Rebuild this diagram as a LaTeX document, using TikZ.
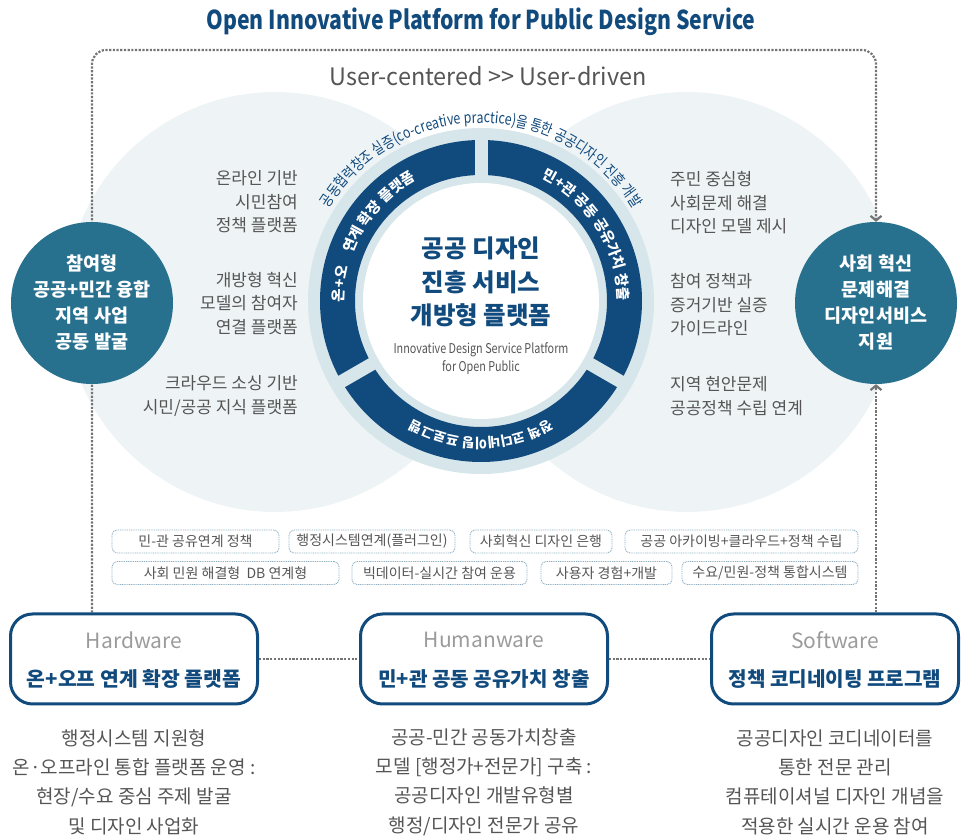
\documentclass[tikz,border=0pt]{standalone}
\usepackage{graphicx}
\usepackage{fontspec}
\setmainfont{Noto Sans CJK KR}
\newfontfamily\condfont[FakeStretch=0.8]{Noto Sans CJK KR}
\newfontfamily\arcfont[FakeStretch=0.8]{Noto Sans CJK KR}
\usetikzlibrary{decorations.text,arrows.meta}
\pgfdeclarelayer{bg}
\pgfsetlayers{bg,main}
\definecolor{navy}{HTML}{114A7D}
\definecolor{tealc}{HTML}{27708E}
\definecolor{ringlight}{HTML}{D7E6EA}
\definecolor{pale}{HTML}{EEF4F6}
\definecolor{txtgrey}{HTML}{555555}
\definecolor{hwgrey}{HTML}{9B9B9B}
\definecolor{dotgrey}{HTML}{747474}
\definecolor{tagborder}{HTML}{8FB0C4}
\newcommand{\fsz}[2]{\fontsize{#1}{#2}\selectfont}
\begin{document}
\begin{tikzpicture}[x=1pt,y=1pt,
  sidetxt/.style={text=txtgrey, font=\fsz{17}{23.5}, inner sep=0},
  sideL/.style={sidetxt, align=right, anchor=east},
  sideR/.style={sidetxt, align=left, anchor=west},
  tealcirc/.style={circle, fill=tealc, minimum size=162pt, inner sep=0, text=white, align=center, font=\bfseries\fsz{18.5}{26}},
  tagbox/.style={draw=tagborder, line width=0.9pt, dash pattern=on 1pt off 0.8pt, rounded corners=5pt, minimum height=23pt, inner sep=0, text=txtgrey, font=\fsz{14}{14}},
  bigbox/.style={draw=navy, line width=3pt, rounded corners=22pt, minimum width=247pt, minimum height=90pt, inner sep=0, fill=white},
  warelabel/.style={text=hwgrey, font=\fsz{21}{21}, inner sep=0},
  boxtitle/.style={text=navy, font=\bfseries\fsz{20}{20}, inner sep=0},
  desc/.style={text=txtgrey, align=center, font=\fsz{19}{29.3}, inner sep=0},
  frameline/.style={draw=dotgrey, line width=2.2pt, dash pattern=on 2.2pt off 1.5pt},
  barbend/.style={-{Straight Barb[length=4.5pt,width=11pt]}},
  ringtext/.style={decorate, decoration={text along path, text align=center, text color=white, text={|\bfseries\fsz{14.5}{14.5}|#1}}},
]
\useasboundingbox (0,0) rectangle (962,839);

% title
\node[text=navy, font=\bfseries\fsz{26}{26}, inner sep=0] (title) at (481,817)
  {\resizebox{549pt}{\height}{Open Innovative Platform for Public Design Service}};
\node[text=txtgrey, font=\fsz{24}{24}, inner sep=0] (usr) at (488,763)
  {\resizebox{317pt}{\height}{User-centered >{}> User-driven}};

% ring
\coordinate (rc) at (481,538);
\fill[ringlight] (rc) circle[radius=173];
\fill[navy, even odd rule] (rc) circle[radius=161] (rc) circle[radius=126];
\foreach \a in {90,210,330}
  \draw[ringlight, line width=13pt] (rc) -- ++(\a:170);
\fill[white] (rc) circle[radius=118];

% ring texts
\path[ringtext={온+오}] (rc) ++(188:137) arc[start angle=188, end angle=158, radius=137];
\path[ringtext={연계 확장 플랫폼}] (rc) ++(168:137) arc[start angle=168, end angle=110, radius=137];
\path[ringtext={민+관 공동 공유가치 창출}] (rc) ++(78:137) arc[start angle=78, end angle=-14, radius=137];
\path[decorate, decoration={text along path, text align=center, text color=white, text={|\bfseries\fsz{13.5}{13.5}|정책 코디네이팅 프로그램}}]
  (rc) ++(330:137) arc[start angle=330, end angle=210, radius=137];
\path[decorate, decoration={text along path, text align=center, text color=navy, text={|\arcfont\fsz{15.5}{15.5}|공동협력창조 실증(co-creative practice)을 통한 공공디자인 진흥 개발}}]
  (rc) ++(178:178) arc[start angle=178, end angle=2, radius=178];

% centre texts
\node[text=navy, align=center, font=\bfseries\fsz{24.5}{33.5}, inner sep=0] (ctitle) at (481,557)
  {공공 디자인\\진흥 서비스\\개방형 플랫폼};
\node[text=txtgrey, align=center, font=\condfont\fsz{13.5}{18}, inner sep=0] (csub) at (481,480)
  {Innovative Design Service Platform\\for Open Public};

% side texts
\node[sideL] (l1) at (298,637) {온라인 기반\\시민참여\\정책 플랫폼};
\node[sideL] (l2) at (298,535.5) {개방형 혁신\\모델의 참여자\\연결 플랫폼};
\node[sideL] (l3) at (298,443) {크라우드 소싱 기반\\시민/공공 지식 플랫폼};
\node[sideR] (r1) at (670,636) {주민 중심형\\사회문제 해결\\디자인 모델 제시};
\node[sideR] (r2) at (670,534) {참여 정책과\\증거기반 실증\\가이드라인};
\node[sideR] (r3) at (670,443) {지역 현안문제\\공공정책 수립 연계};

% teal circles
\node[tealcirc] (tealL) at (92,536) {참여형\\공공+민간 융합\\지역 사업\\공동 발굴};
\node[tealcirc] (tealR) at (876,536) {사회 혁신\\문제해결\\디자인서비스\\지원};

% tags
\node[tagbox, minimum width=167pt] (t1) at (195.5,297.5) {민-관 공유연계 정책};
\node[tagbox, minimum width=166pt] (t2) at (372,297.5) {행정시스템연계(플러그인)};
\node[tagbox, minimum width=142pt] (t3) at (541,297.5) {사회혁신 디자인 은행};
\node[tagbox, minimum width=233pt] (t4) at (741.5,297.5) {공공 아카이빙+클라우드+정책 수립};
\node[tagbox, minimum width=227pt] (t5) at (225.5,266) {사회 민원 해결형\ \ DB 연계형};
\node[tagbox, minimum width=175pt] (t6) at (439.5,266) {빅데이터-실시간 참여 운용};
\node[tagbox, minimum width=131pt] (t7) at (606.5,266) {사용자 경험+개발};
\node[tagbox, minimum width=176pt] (t8) at (770,266) {수요/민원-정책 통합시스템};

% bottom boxes
\node[bigbox] (hw) at (134,180) {};
\node[bigbox] (hu) at (484,180) {};
\node[bigbox] (sw) at (835,180) {};
\node[warelabel] (hwT) at (134,199) {Hardware};
\node[warelabel] (huT) at (484,199) {Humanware};
\node[warelabel] (swT) at (835,199) {Software};
\node[boxtitle] (hwK) at (134,160) {\resizebox{214pt}{\height}{온+오프 연계 확장 플랫폼}};
\node[boxtitle] (huK) at (484,160) {\resizebox{211pt}{\height}{민+관 공동 공유가치 창출}};
\node[boxtitle] (swK) at (835,160) {\resizebox{213pt}{\height}{정책 코디네이팅 프로그램}};

% descriptions
\node[desc] (hwD) at (134,57) {행정시스템 지원형\\온·오프라인 통합 플랫폼 운영 :\\현장/수요 중심 주제 발굴\\및 디자인 사업화};
\node[desc] (huD) at (484,57) {공공-민간 공동가치창출\\모델 [행정가+전문가] 구축 :\\공공디자인 개발유형별\\행정/디자인 전문가 공유};
\node[desc] (swD) at (835,57) {공공디자인 코디네이터를\\통한 전문 관리\\컴퓨테이셔널 디자인 개념을\\적용한 실시간 운용 참여};

\begin{pgfonlayer}{bg}
  \fill[pale] (275,537) circle[radius=210];
  \fill[pale] (687,537) circle[radius=210];
  \draw[frameline, barbend, rounded corners=14pt] (hw.north -| tealL) -- (tealL |- 0,789) -- (tealR |- 0,789) -- (tealR.north);
  \draw[frameline, barbend] (sw.north -| tealR) -- (tealR.south);
  \draw[frameline] (hw.east) -- (hu.west);
  \draw[frameline] (hu.east) -- (sw.west);
\end{pgfonlayer}
\end{tikzpicture}
\end{document}
